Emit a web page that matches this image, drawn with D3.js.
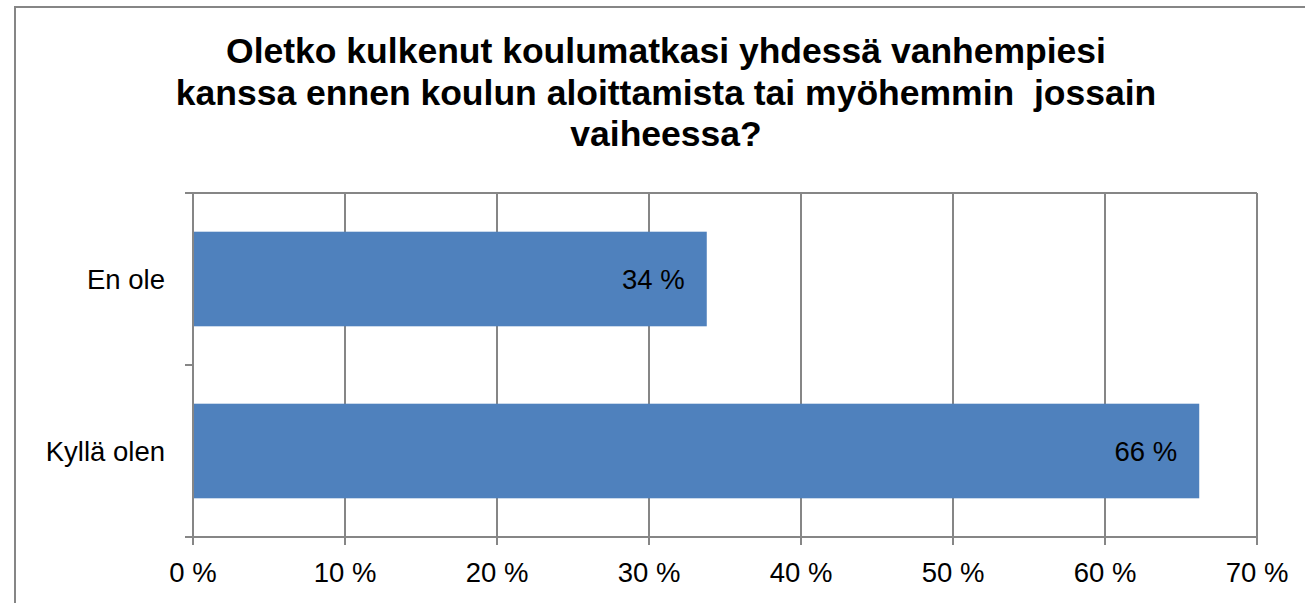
<!DOCTYPE html>
<html><head><meta charset="utf-8">
<script src="https://cdn.jsdelivr.net/npm/d3@7/dist/d3.min.js"></script>
<style>body{margin:0;background:#fff;}svg{display:block;font-family:Arial,"Liberation Sans",sans-serif;}</style>
</head><body>
<svg id="chart" width="1305" height="603"></svg>
<script>
const titleLines = ["Oletko kulkenut koulumatkasi yhdessä vanhempiesi", "kanssa ennen koulun aloittamista tai myöhemmin  jossain", "vaiheessa?"];
const categories = ["En ole", "Kyllä olen"];
const values = [33.8, 66.2];
const valueLabels = ["34 %", "66 %"];
const xTicks = [0, 10, 20, 30, 40, 50, 60, 70];
const xTickLabels = ["0 %", "10 %", "20 %", "30 %", "40 %", "50 %", "60 %", "70 %"];

const svg = d3.select("#chart");
const grid = "#868686";
const m = {left: 193, right: 1257, top: 193, bottom: 537};

svg.append("rect").attr("x", 15).attr("y", 7).attr("width", 1330).attr("height", 640)
  .attr("fill", "#fff").attr("stroke", grid).attr("stroke-width", 2);

const x = d3.scaleLinear().domain([0, 70]).range([m.left, m.right]);
const y = d3.scaleBand().domain(categories).range([m.top, m.bottom]).paddingInner(0.45).paddingOuter(0.225);

// title
svg.append("g").selectAll("text").data(titleLines).join("text")
  .attr("x", 666).attr("y", (d, i) => 63 + i * 41.5)
  .attr("text-anchor", "middle").attr("font-weight", "bold").attr("font-size", 35.5)
  .attr("fill", "#000").style("white-space", "pre").text(d => d);

// gridlines
svg.append("g").selectAll("line").data(xTicks).join("line")
  .attr("x1", d => x(d)).attr("x2", d => x(d)).attr("y1", m.top).attr("y2", m.bottom + 8)
  .attr("stroke", grid).attr("stroke-width", 2);

// top border
svg.append("line").attr("x1", m.left - 8).attr("x2", m.right).attr("y1", m.top).attr("y2", m.top)
  .attr("stroke", grid).attr("stroke-width", 2);

// bars
svg.append("g").selectAll("rect").data(categories).join("rect")
  .attr("x", x(0)).attr("y", d => y(d))
  .attr("width", (d, i) => x(values[i]) - x(0)).attr("height", y.bandwidth())
  .attr("fill", "#4f81bd");

// x axis
svg.append("line").attr("x1", m.left - 8).attr("x2", m.right).attr("y1", m.bottom).attr("y2", m.bottom)
  .attr("stroke", grid).attr("stroke-width", 2);
svg.append("g").selectAll("text").data(xTicks).join("text")
  .attr("x", d => x(d)).attr("y", 582).attr("text-anchor", "middle")
  .attr("font-size", 27.5).attr("fill", "#000").style("white-space", "pre")
  .text((d, i) => xTickLabels[i]);

// y axis ticks at category boundaries
const step = y.step();
const bounds = [m.top, m.top + step, m.bottom];
svg.append("g").selectAll("line").data(bounds).join("line")
  .attr("x1", m.left - 8).attr("x2", m.left).attr("y1", d => d).attr("y2", d => d)
  .attr("stroke", grid).attr("stroke-width", 2);
svg.append("line").attr("x1", m.left).attr("x2", m.left).attr("y1", m.top).attr("y2", m.bottom)
  .attr("stroke", grid).attr("stroke-width", 2);

svg.append("g").selectAll("text").data(categories).join("text")
  .attr("x", 165).attr("y", d => y(d) + y.bandwidth() / 2 + 10)
  .attr("text-anchor", "end").attr("font-size", 27.5).attr("fill", "#000").text(d => d);

// value labels
svg.append("g").selectAll("text").data(categories).join("text")
  .attr("x", (d, i) => x(values[i]) - 22).attr("y", d => y(d) + y.bandwidth() / 2 + 10)
  .attr("text-anchor", "end").attr("font-size", 27.5).attr("fill", "#000")
  .text((d, i) => valueLabels[i]);
</script>
</body></html>
